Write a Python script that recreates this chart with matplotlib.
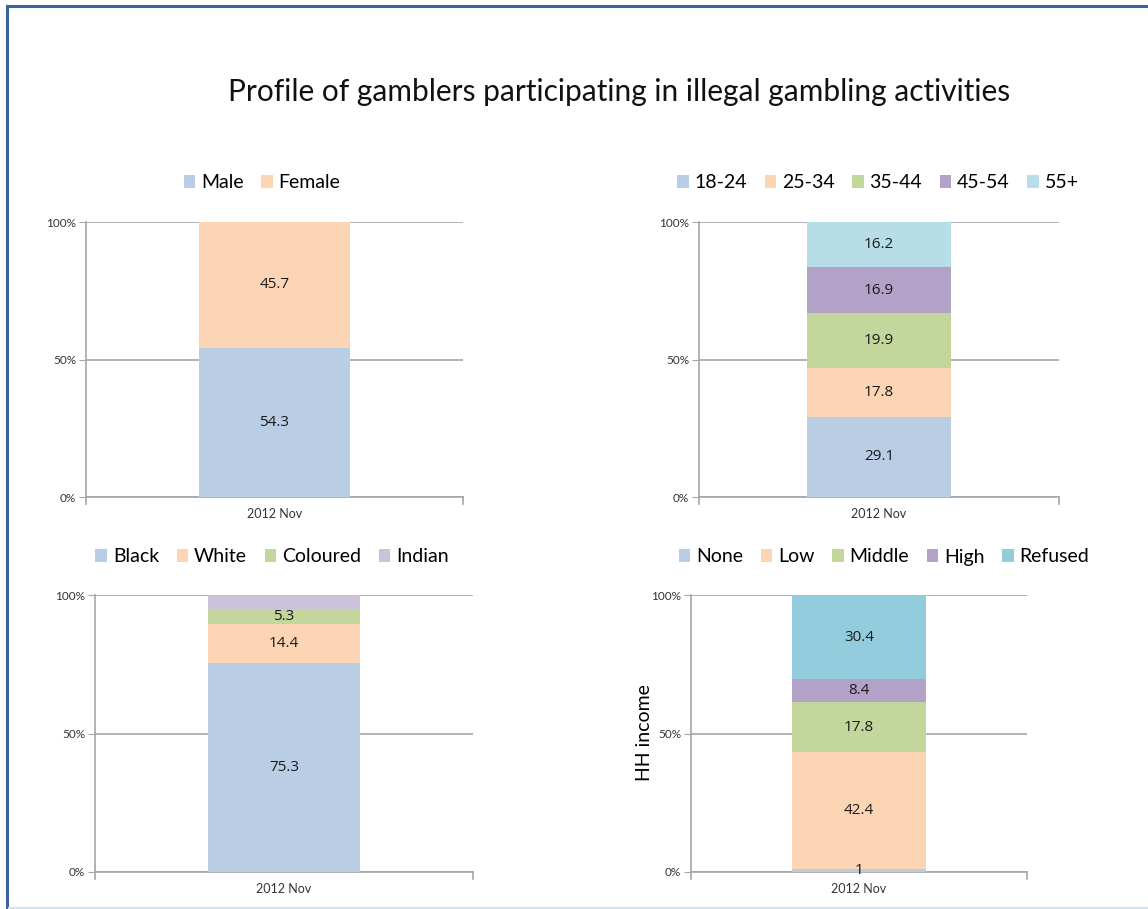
import matplotlib
matplotlib.use("Agg")
import matplotlib.pyplot as plt
from matplotlib.lines import Line2D

plt.rcParams['font.family'] = ['Lato', 'DejaVu Sans']

period = "2012 Nov"

gender_labels = ["Male", "Female"]
gender_values = [54.3, 45.7]
gender_colors = ["#B9CDE5", "#FCD5B5"]

age_labels = ["18-24", "25-34", "35-44", "45-54", "55+"]
age_values = [29.1, 17.8, 19.9, 16.9, 16.2]
age_colors = ["#B9CDE5", "#FCD5B5", "#C3D69B", "#B3A2C7", "#B7DEE8"]

race_labels = ["Black", "White", "Coloured", "Indian"]
race_values = [75.3, 14.4, 5.3, 5.0]
race_shown = [True, True, True, False]
race_colors = ["#B9CDE5", "#FCD5B5", "#C3D69B", "#CCC1DA"]

income_labels = ["None", "Low", "Middle", "High", "Refused"]
income_values = [1, 42.4, 17.8, 8.4, 30.4]
income_colors = ["#B9CDE5", "#FCD5B5", "#C3D69B", "#B3A2C7", "#93CDDD"]

W, H = 1148, 909
fig = plt.figure(figsize=(W / 100, H / 100), dpi=100)


def px_axes(x0, y0, x1, y1):
    # pixel box (top-left origin) -> figure axes
    return fig.add_axes([x0 / W, 1 - y1 / H, (x1 - x0) / W, (y1 - y0) / H])


def stacked(ax, labels, values, colors, legend_cx, legend_cy, shown=None):
    if shown is None:
        shown = [True] * len(values)
    bottom = 0
    handles = []
    for lab, v, c, s in zip(labels, values, colors, shown):
        bars = ax.bar([period], [v], bottom=bottom, width=0.4, color=c,
                      edgecolor='none', zorder=3, label=lab)
        if s:
            txts = ax.bar_label(bars, labels=[f"{v:g}"], label_type='center',
                                fontsize=11, color='#1a1a1a',
                                family=['Open Sans', 'DejaVu Sans'])
            for t in txts:
                t.set_zorder(6)
        bottom += v
        handles.append(bars)
    ax.set_xlim(-0.5, 0.5)
    ax.set_ylim(0, 100)
    ax.set_yticks([0, 50, 100])
    ax.set_yticklabels(["0%", "50%", "100%"])
    ax.grid(axis='y', color='#A6A6A6', linewidth=1.2, zorder=0)
    for side in ['top', 'right']:
        ax.spines[side].set_visible(False)
    for side in ['left', 'bottom']:
        ax.spines[side].set_color('#A6A6A6')
        ax.spines[side].set_linewidth(1.2)
    ax.tick_params(axis='y', length=5, color='#A6A6A6', labelsize=8.5,
                   labelcolor='#333333', pad=2)
    ax.tick_params(axis='x', length=0, labelsize=9, labelcolor='#333333', pad=8)
    # category boundary tick marks
    for xb in [-0.5, 0.5]:
        ax.plot([xb, xb], [0, -2.7], color='#A6A6A6', lw=1.2, clip_on=False)
    leg = fig.legend(handles=handles, labels=labels, loc='center',
                     bbox_to_anchor=(legend_cx / W, 1 - legend_cy / H),
                     ncol=len(labels), frameon=False, fontsize=14,
                     handlelength=0.6, handleheight=0.6, handletextpad=0.3,
                     columnspacing=0.9, borderpad=0)
    return leg


ax1 = px_axes(86, 222, 463, 497)
stacked(ax1, gender_labels, gender_values, gender_colors, 262, 183)

ax2 = px_axes(699, 222, 1059, 497)
stacked(ax2, age_labels, age_values, age_colors, 878, 183)

ax3 = px_axes(95, 595, 473, 872)
stacked(ax3, race_labels, race_values, race_colors, 272, 557, race_shown)

ax4 = px_axes(691, 595, 1027, 872)
stacked(ax4, income_labels, income_values, income_colors, 884, 557)
fig.text(645 / W, 1 - 733 / H, "HH income", rotation=90, ha='center',
         va='center', fontsize=14)

fig.text(619 / W, 1 - 92 / H,
         "Profile of gamblers participating in illegal gambling activities",
         ha='center', va='center', fontsize=21.5, color='#111111')

# outer frame
fig.add_artist(Line2D([7 / W, 7 / W], [1 - 6 / H, 1 - 908 / H], color='#3C6399',
                      lw=2.2, transform=fig.transFigure))
fig.add_artist(Line2D([7 / W, 1], [1 - 6 / H, 1 - 6 / H], color='#3C6399',
                      lw=2.2, transform=fig.transFigure))
fig.add_artist(Line2D([9 / W, 1], [1 - 908 / H, 1 - 908 / H], color='#D6E0EE',
                      lw=1.5, transform=fig.transFigure))

fig.savefig("out.png", dpi=100)
